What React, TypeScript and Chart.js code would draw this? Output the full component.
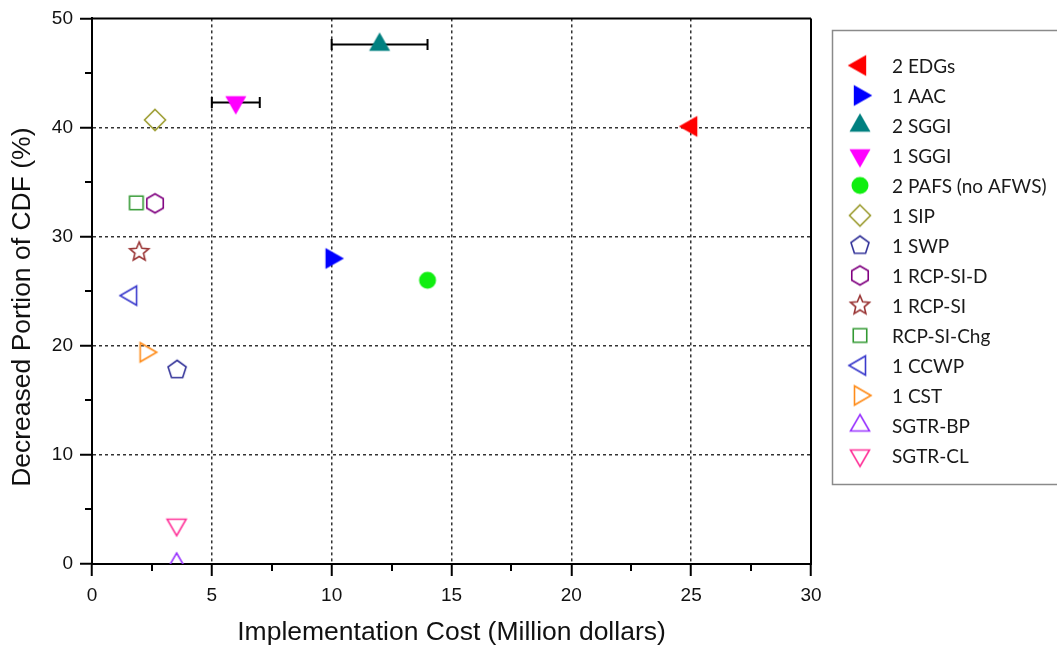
import React, { useEffect, useRef } from 'react';
import { Chart, registerables } from 'chart.js';

Chart.register(...registerables);

// ---------- data ----------
const labels = [
  '2 EDGs', '1 AAC', '2 SGGI', '1 SGGI', '2 PAFS (no AFWS)', '1 SIP', '1 SWP',
  '1 RCP-SI-D', '1 RCP-SI', 'RCP-SI-Chg', '1 CCWP', '1 CST', 'SGTR-BP', 'SGTR-CL',
];
const costs = [25, 10, 12, 6, 14, 2.63, 3.55, 2.63, 1.97, 1.85, 1.63, 2.24, 3.53, 3.53];
const decreases = [40.1, 28.0, 47.6, 42.3, 26.0, 40.7, 17.8, 33.05, 28.6, 33.1, 24.6, 19.4, 0, 3.6];
const errLow: (number | null)[] = [null, null, 10, 5, null, null, null, null, null, null, null, null, null, null];
const errHigh: (number | null)[] = [null, null, 14, 7, null, null, null, null, null, null, null, null, null, null];
const colors = [
  '#ff0000', '#0000ff', '#008080', '#ff00ff', '#10ee10', '#9c9c30', '#333399',
  '#800080', '#993333', '#339933', '#3a3acc', '#ff8c1a', '#9933ff', '#ff3399',
];
const shapes = [
  'left', 'right', 'up', 'down', 'circle', 'diamond', 'pentagon',
  'hexagon', 'star', 'square', 'left', 'right', 'up', 'down',
];
const solid = [true, true, true, true, true, false, false, false, false, false, false, false, false, false];

const xTicks = [0, 5, 10, 15, 20, 25, 30];
const yTicks = [0, 10, 20, 30, 40, 50];
const xMinorTicks = [2.5, 7.5, 12.5, 17.5, 22.5, 27.5];
const yMinorTicks = [5, 15, 25, 35, 45];
const xTitle = 'Implementation Cost (Million dollars)';
const yTitle = 'Decreased Portion of CDF (%)';

const TICK_FONT = "'Liberation Sans', Arial, sans-serif";
const LEGEND_FONT = "Lato, 'Open Sans', sans-serif";

// ---------- marker images ----------
function makeMarker(shape: string, color: string, isSolid: boolean): HTMLCanvasElement {
  const dim = 32;
  const c = document.createElement('canvas');
  c.width = dim;
  c.height = dim;
  const g = c.getContext('2d') as CanvasRenderingContext2D;
  const cx = dim / 2;
  const cy = dim / 2;
  g.beginPath();
  const tri = (dir: string) => {
    const w = isSolid ? 21 : 19;
    const h = isSolid ? 18.5 : 16.5;
    const a = (2 * h) / 3;
    const b = h / 3;
    if (dir === 'up') {
      g.moveTo(cx, cy - a); g.lineTo(cx + w / 2, cy + b); g.lineTo(cx - w / 2, cy + b);
    } else if (dir === 'down') {
      g.moveTo(cx, cy + a); g.lineTo(cx + w / 2, cy - b); g.lineTo(cx - w / 2, cy - b);
    } else if (dir === 'left') {
      g.moveTo(cx - a, cy); g.lineTo(cx + b, cy - w / 2); g.lineTo(cx + b, cy + w / 2);
    } else {
      g.moveTo(cx + a, cy); g.lineTo(cx - b, cy - w / 2); g.lineTo(cx - b, cy + w / 2);
    }
    g.closePath();
  };
  const poly = (n: number, r: number, start: number) => {
    for (let k = 0; k < n; k++) {
      const ang = start + (k * 2 * Math.PI) / n;
      const px = cx + r * Math.cos(ang);
      const py = cy + r * Math.sin(ang);
      if (k === 0) g.moveTo(px, py); else g.lineTo(px, py);
    }
    g.closePath();
  };
  switch (shape) {
    case 'up': case 'down': case 'left': case 'right':
      tri(shape); break;
    case 'circle':
      g.arc(cx, cy, 8.5, 0, Math.PI * 2); break;
    case 'diamond':
      g.moveTo(cx, cy - 10.5); g.lineTo(cx + 10.5, cy); g.lineTo(cx, cy + 10.5); g.lineTo(cx - 10.5, cy); g.closePath(); break;
    case 'square':
      g.rect(cx - 6.75, cy - 6.75, 13.5, 13.5); break;
    case 'pentagon':
      poly(5, 9.5, -Math.PI / 2); break;
    case 'hexagon':
      poly(6, 9.5, -Math.PI / 2); break;
    case 'star': {
      const R = 10, r = 4.5;
      for (let k = 0; k < 10; k++) {
        const ang = -Math.PI / 2 + (k * Math.PI) / 5;
        const rr = k % 2 === 0 ? R : r;
        const px = cx + rr * Math.cos(ang);
        const py = cy + rr * Math.sin(ang);
        if (k === 0) g.moveTo(px, py); else g.lineTo(px, py);
      }
      g.closePath();
      break;
    }
  }
  if (isSolid) {
    g.fillStyle = color;
    g.fill();
  } else {
    g.lineJoin = 'miter';
    g.lineWidth = 1.6;
    g.strokeStyle = color;
    g.stroke();
  }
  return c;
}

export default function App() {
  const ref = useRef<HTMLCanvasElement>(null);

  useEffect(() => {
    const canvas = ref.current;
    if (!canvas) return;
    const markers = labels.map((_, i) => makeMarker(shapes[i], colors[i], solid[i]));

    const datasets = labels.map((lab, i) => ({
      label: lab,
      data: [{ x: costs[i], y: decreases[i] }],
      pointStyle: markers[i],
      pointRadius: 10,
      pointHoverRadius: 10,
      backgroundColor: colors[i],
      borderColor: colors[i],
      showLine: false,
      clip: 0,
    }));

    const errorBars = {
      id: 'errorBars',
      beforeDatasetsDraw(chart: any) {
        const { ctx, scales } = chart;
        ctx.save();
        ctx.strokeStyle = '#000';
        ctx.lineWidth = 2;
        labels.forEach((_, i) => {
          const lo = errLow[i];
          const hi = errHigh[i];
          if (lo == null || hi == null) return;
          const y = scales.y.getPixelForValue(decreases[i]);
          const x1 = scales.x.getPixelForValue(lo);
          const x2 = scales.x.getPixelForValue(hi);
          ctx.beginPath();
          ctx.moveTo(x1, y); ctx.lineTo(x2, y);
          ctx.moveTo(x1, y - 5.5); ctx.lineTo(x1, y + 5.5);
          ctx.moveTo(x2, y - 5.5); ctx.lineTo(x2, y + 5.5);
          ctx.stroke();
        });
        ctx.restore();
      },
    };

    const frame = {
      id: 'frame',
      afterDraw(chart: any) {
        const { ctx, chartArea, scales } = chart;
        const { left, right, top, bottom } = chartArea;
        ctx.save();
        ctx.strokeStyle = '#000';
        ctx.lineWidth = 2;
        ctx.beginPath();
        ctx.moveTo(left - 1, top); ctx.lineTo(right, top);
        ctx.moveTo(right, top); ctx.lineTo(right, bottom + 1);
        // minor ticks
        xMinorTicks.forEach((v) => {
          const x = Math.round(scales.x.getPixelForValue(v));
          ctx.moveTo(x, bottom); ctx.lineTo(x, bottom + 7);
        });
        yMinorTicks.forEach((v) => {
          const y = Math.round(scales.y.getPixelForValue(v));
          ctx.moveTo(left, y); ctx.lineTo(left - 7, y);
        });
        ctx.stroke();

        // y axis title (placed slightly below the axis centre, as in the original)
        ctx.save();
        ctx.translate(23, (top + bottom) / 2 + 16);
        ctx.rotate(-Math.PI / 2);
        ctx.font = `26.5px ${TICK_FONT}`;
        ctx.fillStyle = '#111';
        ctx.textAlign = 'center';
        ctx.textBaseline = 'middle';
        ctx.fillText(yTitle, 0, 0);
        ctx.restore();

        // legend box
        ctx.strokeStyle = '#8a8a8a';
        ctx.lineWidth = 1.5;
        ctx.strokeRect(832.5, 30.5, 240, 454);
        ctx.font = `19px ${LEGEND_FONT}`;
        ctx.textBaseline = 'middle';
        ctx.textAlign = 'left';
        ctx.fillStyle = '#1a1a1a';
        chart.data.datasets.forEach((ds: any, i: number) => {
          const y = 65.5 + i * 30;
          const m = markers[i];
          ctx.drawImage(m, 860 - m.width / 2, y - m.height / 2);
          ctx.fillText(ds.label, 892, y + 1);
        });
        ctx.restore();
      },
    };

    const gridColor = (max: number) => (c: any) =>
      c.tick && (c.tick.value === 0 || c.tick.value === max) ? 'rgba(0,0,0,0)' : '#333333';

    const chart = new Chart(canvas, {
      type: 'scatter',
      data: { datasets: datasets as any },
      options: {
        responsive: false,
        animation: false,
        events: [],
        layout: { padding: { top: 17, right: 246, left: 0, bottom: 0 } },
        plugins: { legend: { display: false }, tooltip: { enabled: false } },
        scales: {
          x: {
            type: 'linear',
            min: xTicks[0],
            max: xTicks[xTicks.length - 1],
            afterBuildTicks: (s: any) => { s.ticks = xTicks.map((v) => ({ value: v })); },
            ticks: {
              color: '#111',
              font: { family: TICK_FONT, size: 19 },
              padding: 8,
              maxRotation: 0,
            },
            grid: {
              color: gridColor(30),
              lineWidth: 1.5,
              tickLength: 12,
              tickWidth: 2,
              tickColor: '#000',
            },
            border: { display: true, color: '#000', width: 2, dash: [3, 3] },
            title: {
              display: true,
              text: xTitle,
              color: '#111',
              font: { family: TICK_FONT, size: 26.5 },
              padding: { top: 0, bottom: 2 },
            },
            afterFit: (s: any) => { s.height = 87; },
          },
          y: {
            type: 'linear',
            min: yTicks[0],
            max: yTicks[yTicks.length - 1],
            afterBuildTicks: (s: any) => { s.ticks = yTicks.map((v) => ({ value: v })); },
            ticks: {
              color: '#111',
              font: { family: TICK_FONT, size: 19 },
              padding: 7,
            },
            grid: {
              color: gridColor(50),
              lineWidth: 1.5,
              tickLength: 12,
              tickWidth: 2,
              tickColor: '#000',
            },
            border: { display: true, color: '#000', width: 2, dash: [3, 3] },
            title: { display: false },
            afterFit: (s: any) => { s.width = 92; },
          },
        },
      } as any,
      plugins: [errorBars, frame],
    });

    return () => chart.destroy();
  }, []);

  return (
    <div style={{ position: 'absolute', left: 0, top: 0, width: 1057, height: 651, background: '#fff' }}>
      <canvas ref={ref} width={1057} height={651} style={{ display: 'block', width: 1057, height: 651 }} />
    </div>
  );
}
